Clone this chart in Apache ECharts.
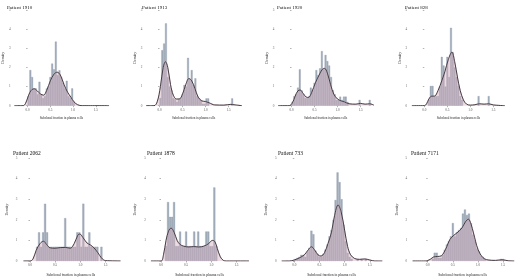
<!DOCTYPE html>
<html>
<head>
<meta charset="utf-8">
<script src="https://cdn.jsdelivr.net/npm/echarts@6/dist/echarts.min.js"></script>
<style>
  html, body { margin: 0; padding: 0; background: #fff; }
  #chart { width: 520px; height: 278px; }
</style>
</head>
<body>
<div id="chart"></div>
<script>
// panel titles
const patients = ['Patient 1910', 'Patient 1913', 'Patient 1920', 'Patient 828',
                  'Patient 2062', 'Patient 1878', 'Patient 733', 'Patient 7171'];
const xTicks = [0, 0.5, 1, 1.5];
const yTicks = [0, 1, 2, 3, 4, 5];

// histogram bars: [bin centre, density]
const hist1910 = [[0.02,0.5],[0.06,1.86],[0.10,1.5],[0.14,0.9],[0.18,0.9],[0.22,0.6],[0.26,1.25],[0.30,0.6],
  [0.34,0.4],[0.38,0.5],[0.42,0.9],[0.46,1.0],[0.50,1.5],[0.54,2.2],[0.58,1.9],[0.62,3.35],[0.66,1.6],
  [0.70,1.85],[0.74,1.5],[0.78,1.2],[0.82,0.9],[0.86,1.3],[0.90,0.5],[0.94,0.4],[0.98,0.9],[1.02,0.2]];
const hist1913 = [[0.02,0.4],[0.06,2.9],[0.10,3.25],[0.14,4.3],[0.18,1.5],[0.22,1.0],[0.26,0.8],[0.30,0.4],
  [0.34,0.35],[0.38,0.2],[0.42,0.35],[0.46,0.4],[0.50,0.6],[0.54,1.08],[0.58,1.0],[0.62,2.5],[0.66,1.4],
  [0.70,1.86],[0.74,1.1],[0.78,1.43],[0.82,0.5],[0.86,0.4],[0.90,0.3],[0.94,0.1],[0.98,0.1],[1.02,0.38],
  [1.06,0.38],[1.58,0.38]];
const hist1920 = [[0.02,0.2],[0.06,0.5],[0.10,0.6],[0.14,0.94],[0.18,1.9],[0.22,0.8],[0.26,0.6],[0.30,0.4],
  [0.34,0.4],[0.38,0.5],[0.42,0.94],[0.46,0.8],[0.50,1.2],[0.54,1.86],[0.58,1.6],[0.62,1.95],[0.66,2.85],
  [0.70,1.9],[0.74,2.65],[0.78,2.33],[0.82,2.1],[0.86,1.5],[0.90,0.82],[0.94,0.6],[0.98,0.3],[1.02,0.3],
  [1.06,0.47],[1.10,0.3],[1.14,0.47],[1.18,0.47],[1.22,0.2],[1.48,0.3],[1.70,0.3]];
const hist828 = [[0.10,0.3],[0.14,1.03],[0.18,1.03],[0.22,0.5],[0.26,0.5],[0.30,0.5],[0.34,1.0],[0.38,2.55],
  [0.42,2.1],[0.46,1.0],[0.50,2.55],[0.54,1.5],[0.58,4.07],[0.62,2.8],[0.66,2.0],[0.70,1.5],[0.74,1.03],
  [0.78,0.5],[0.82,0.3],[1.18,0.5],[1.40,0.5]];
const hist2062 = [[0.14,0.69],[0.18,1.39],[0.22,0.69],[0.26,1.39],[0.30,2.78],[0.34,1.39],[0.38,0.69],
  [0.42,0.69],[0.46,0.69],[0.50,0.69],[0.54,0.69],[0.58,0.69],[0.62,0.69],[0.66,0.69],[0.70,2.08],
  [0.74,0.69],[0.78,0.69],[0.82,0.69],[0.86,0.69],[0.90,0.69],[0.94,1.39],[0.98,1.39],[1.02,0.69],
  [1.06,2.78],[1.10,0.69],[1.14,0.69],[1.18,1.39],[1.22,0.69],[1.26,0.69],[1.30,0.69],[1.34,0.69],[1.42,0.69]];
const hist1878 = [[0.10,0.72],[0.14,2.86],[0.18,2.14],[0.22,2.14],[0.26,2.86],[0.30,0.72],[0.34,0.72],
  [0.38,1.43],[0.42,0.72],[0.46,0.72],[0.50,1.43],[0.54,0.72],[0.58,0.72],[0.62,0.72],[0.66,1.43],
  [0.70,0.72],[0.74,1.43],[0.78,0.72],[0.82,0.72],[0.86,0.72],[0.90,1.43],[0.94,1.43],[0.98,0.72],
  [1.02,0.72],[1.06,3.57],[1.10,0.72]];
const hist733 = [[0.02,0.1],[0.06,0.15],[0.10,0.2],[0.14,0.3],[0.18,0.3],[0.22,0.2],[0.26,0.45],[0.30,0.64],
  [0.34,1.47],[0.38,1.3],[0.42,0.5],[0.46,0.35],[0.50,0.2],[0.54,0.2],[0.58,0.35],[0.62,0.55],[0.66,0.8],
  [0.70,1.2],[0.74,1.5],[0.78,2.0],[0.82,2.96],[0.86,4.3],[0.90,3.83],[0.94,3.0],[0.98,1.76],[1.02,0.96],
  [1.06,0.4],[1.10,0.2],[1.14,0.1],[1.26,0.1],[1.34,0.1],[1.42,0.1]];
const hist7171 = [[0.10,0.1],[0.14,0.4],[0.18,0.4],[0.22,0.15],[0.26,0.15],[0.30,0.3],[0.34,0.55],[0.38,0.8],
  [0.42,0.96],[0.46,1.2],[0.50,1.84],[0.54,1.2],[0.58,1.4],[0.62,1.5],[0.66,1.6],[0.70,2.3],[0.74,2.5],
  [0.78,2.23],[0.82,2.3],[0.86,1.84],[0.90,1.28],[0.94,1.0],[0.98,0.6],[1.02,0.48],[1.06,0.25],[1.10,0.2],
  [1.14,0.1],[1.46,0.1],[1.50,0.1]];

// kernel density curves: [x, density]
const dens1910 = [[-0.29,0],[-0.1,0],[-0.05,0.1],[0.0,0.4],[0.05,0.7],[0.1,0.85],[0.15,0.88],[0.2,0.8],
  [0.28,0.62],[0.35,0.55],[0.42,0.8],[0.5,1.3],[0.58,1.65],[0.65,1.75],[0.72,1.6],[0.8,1.1],[0.88,0.7],
  [0.95,0.45],[1.02,0.2],[1.1,0.05],[1.2,0],[1.79,0]];
const dens1913 = [[-0.29,0],[-0.12,0],[-0.05,0.2],[0.02,1.0],[0.08,2.0],[0.13,2.3],[0.18,2.0],[0.24,1.1],
  [0.3,0.55],[0.37,0.35],[0.43,0.35],[0.5,0.6],[0.57,1.1],[0.64,1.42],[0.7,1.3],[0.77,0.9],[0.84,0.45],
  [0.92,0.25],[1.0,0.22],[1.08,0.15],[1.2,0.04],[1.4,0.03],[1.55,0.07],[1.62,0.05],[1.79,0]];
const dens1920 = [[-0.29,0],[-0.05,0],[0.02,0.15],[0.08,0.5],[0.14,0.78],[0.19,0.82],[0.25,0.65],[0.32,0.45],
  [0.37,0.43],[0.44,0.7],[0.52,1.2],[0.6,1.6],[0.67,1.9],[0.72,1.95],[0.78,1.7],[0.85,1.1],[0.92,0.6],
  [1.0,0.35],[1.08,0.25],[1.15,0.2],[1.25,0.1],[1.4,0.08],[1.5,0.12],[1.6,0.08],[1.7,0.1],[1.79,0.03]];
const dens828 = [[-0.27,0],[0.0,0],[0.05,0.1],[0.1,0.35],[0.16,0.5],[0.22,0.5],[0.3,0.8],[0.38,1.3],[0.45,1.8],
  [0.52,2.4],[0.6,2.8],[0.66,2.3],[0.72,1.5],[0.78,0.8],[0.85,0.3],[0.92,0.08],[1.0,0.03],[1.1,0.05],
  [1.2,0.1],[1.3,0.08],[1.4,0.1],[1.5,0.04],[1.75,0]];
const dens2062 = [[-0.13,0],[0.0,0],[0.06,0.1],[0.12,0.5],[0.2,0.85],[0.27,0.96],[0.33,0.8],[0.4,0.64],
  [0.5,0.62],[0.6,0.65],[0.7,0.66],[0.8,0.62],[0.88,0.85],[0.95,1.25],[0.99,1.31],[1.05,1.15],[1.13,0.88],
  [1.2,0.78],[1.27,0.64],[1.35,0.4],[1.42,0.15],[1.5,0.02],[1.8,0]];
const dens1878 = [[-0.2,0],[0.0,0],[0.05,0.3],[0.1,1.0],[0.15,1.45],[0.2,1.6],[0.26,1.4],[0.32,1.0],
  [0.38,0.8],[0.45,0.72],[0.55,0.68],[0.65,0.7],[0.75,0.68],[0.85,0.72],[0.95,0.85],[1.02,1.0],[1.07,0.95],
  [1.12,0.6],[1.18,0.2],[1.24,0.03],[1.3,0],[1.75,0]];
const dens733 = [[-0.25,0],[-0.1,0],[0.0,0.05],[0.1,0.15],[0.2,0.3],[0.28,0.55],[0.34,0.69],[0.4,0.55],
  [0.47,0.3],[0.53,0.24],[0.6,0.4],[0.67,0.85],[0.74,1.4],[0.8,2.2],[0.87,2.72],[0.93,2.4],[1.0,1.5],
  [1.06,0.7],[1.12,0.3],[1.2,0.12],[1.3,0.08],[1.4,0.1],[1.5,0.05],[1.6,0],[1.75,0]];
const dens7171 = [[-0.3,0],[-0.05,0],[0.05,0.08],[0.12,0.2],[0.2,0.22],[0.27,0.25],[0.32,0.4],[0.38,0.7],
  [0.44,1.04],[0.52,1.25],[0.58,1.36],[0.68,1.6],[0.75,1.9],[0.81,2.03],[0.86,1.8],[0.91,1.36],[1.0,0.56],
  [1.1,0.16],[1.2,0.05],[1.35,0.03],[1.48,0.06],[1.6,0.01],[1.72,0]];

const hists = [hist1910, hist1913, hist1920, hist828, hist2062, hist1878, hist733, hist7171];
const denss = [dens1910, dens1913, dens1920, dens828, dens2062, dens1878, dens733, dens7171];

// panel geometry: pixel of x=0, px per unit, baseline pixel, px per density unit
const panels = [
  {x0: 26.7, ux: 46, y0: 105.7, uy: 19.14, xmin: -0.32, xmax: 1.8, tx: 2, ty: 0},
  {x0: 159.5, ux: 46, y0: 105.7, uy: 19.14, xmin: -0.32, xmax: 1.8, tx: 137, ty: 0},
  {x0: 291.5, ux: 46, y0: 105.7, uy: 19.14, xmin: -0.32, xmax: 1.8, tx: 272, ty: 0},
  {x0: 424.3, ux: 46, y0: 105.7, uy: 19.14, xmin: -0.32, xmax: 1.8, tx: 400, ty: 0},
  {x0: 30, ux: 50.3, y0: 262.3, uy: 20.86, xmin: -0.2, xmax: 1.82, tx: 8, ty: 146},
  {x0: 161, ux: 50.3, y0: 262.3, uy: 20.86, xmin: -0.25, xmax: 1.78, tx: 142, ty: 146},
  {x0: 294.3, ux: 50.3, y0: 262.3, uy: 20.86, xmin: -0.3, xmax: 1.78, tx: 273, ty: 146},
  {x0: 427.7, ux: 50.3, y0: 262.3, uy: 20.86, xmin: -0.36, xmax: 1.75, tx: 406, ty: 146}
];

const font = 'Liberation Serif';
const grid = [], xAxis = [], yAxis = [], series = [], title = [];

panels.forEach((p, i) => {
  const left = p.x0 + p.xmin * p.ux;
  const right = p.x0 + p.xmax * p.ux;
  const top = p.y0 - 5 * p.uy;
  grid.push({left: left, top: top, width: right - left, height: p.y0 - top});
  title.push({
    text: patients[i], left: p.tx, top: p.ty,
    textStyle: {fontFamily: font, fontSize: i < 4 ? 5 : 5.5, fontWeight: 'normal', color: '#111'}
  });
  xAxis.push({
    type: 'value', gridIndex: i, min: p.xmin, max: p.xmax,
    name: 'Subclonal fraction in plasma cells', nameLocation: 'middle', nameGap: i < 4 ? 11 : 12,
    nameTextStyle: {fontFamily: font, fontSize: i < 4 ? 3.2 : 3.6, color: '#222'},
    axisLine: {show: false},
    axisTick: {show: true, length: 1.5, lineStyle: {color: '#666', width: 0.5}, customValues: xTicks},
    axisLabel: {fontFamily: font, fontSize: 3.3, color: '#555', margin: 3, customValues: xTicks,
      formatter: v => v.toFixed(1)},
    splitLine: {show: false}
  });
  yAxis.push({
    type: 'value', gridIndex: i, min: 0, max: 5,
    name: 'Density', nameLocation: 'middle', nameGap: i < 4 ? 8 : 11, nameRotate: 90,
    nameTextStyle: {fontFamily: font, fontSize: 3.8, color: '#222'},
    axisLine: {show: false},
    axisTick: {show: true, length: 1.5, lineStyle: {color: '#666', width: 0.5}, customValues: yTicks},
    axisLabel: {fontFamily: font, fontSize: 3.3, color: '#666', margin: 2.5, customValues: yTicks},
    splitLine: {show: false}
  });
  series.push({
    type: 'bar', xAxisIndex: i, yAxisIndex: i, data: hists[i],
    barWidth: 0.04 * p.ux, barGap: '-100%',
    itemStyle: {color: '#a2adbb', borderColor: '#8d97a5', borderWidth: 0.3},
    silent: true, z: 1
  });
  series.push({
    type: 'line', xAxisIndex: i, yAxisIndex: i, data: denss[i], smooth: 0.35,
    symbol: 'none', lineStyle: {color: '#e6bfc9', width: 0.8},
    areaStyle: {color: 'rgba(214, 172, 188, 0.62)', origin: 'start'},
    silent: true, z: 2
  });
  series.push({
    type: 'line', xAxisIndex: i, yAxisIndex: i, data: denss[i], smooth: 0.35,
    symbol: 'none', lineStyle: {color: '#2f2f35', width: 0.9},
    silent: true, z: 3
  });
});

const chart = echarts.init(document.getElementById('chart'), null, {renderer: 'canvas'});
chart.setOption({
  animation: false,
  backgroundColor: '#fff',
  title: title,
  grid: grid,
  xAxis: xAxis,
  yAxis: yAxis,
  series: series
});
</script>
</body>
</html>
